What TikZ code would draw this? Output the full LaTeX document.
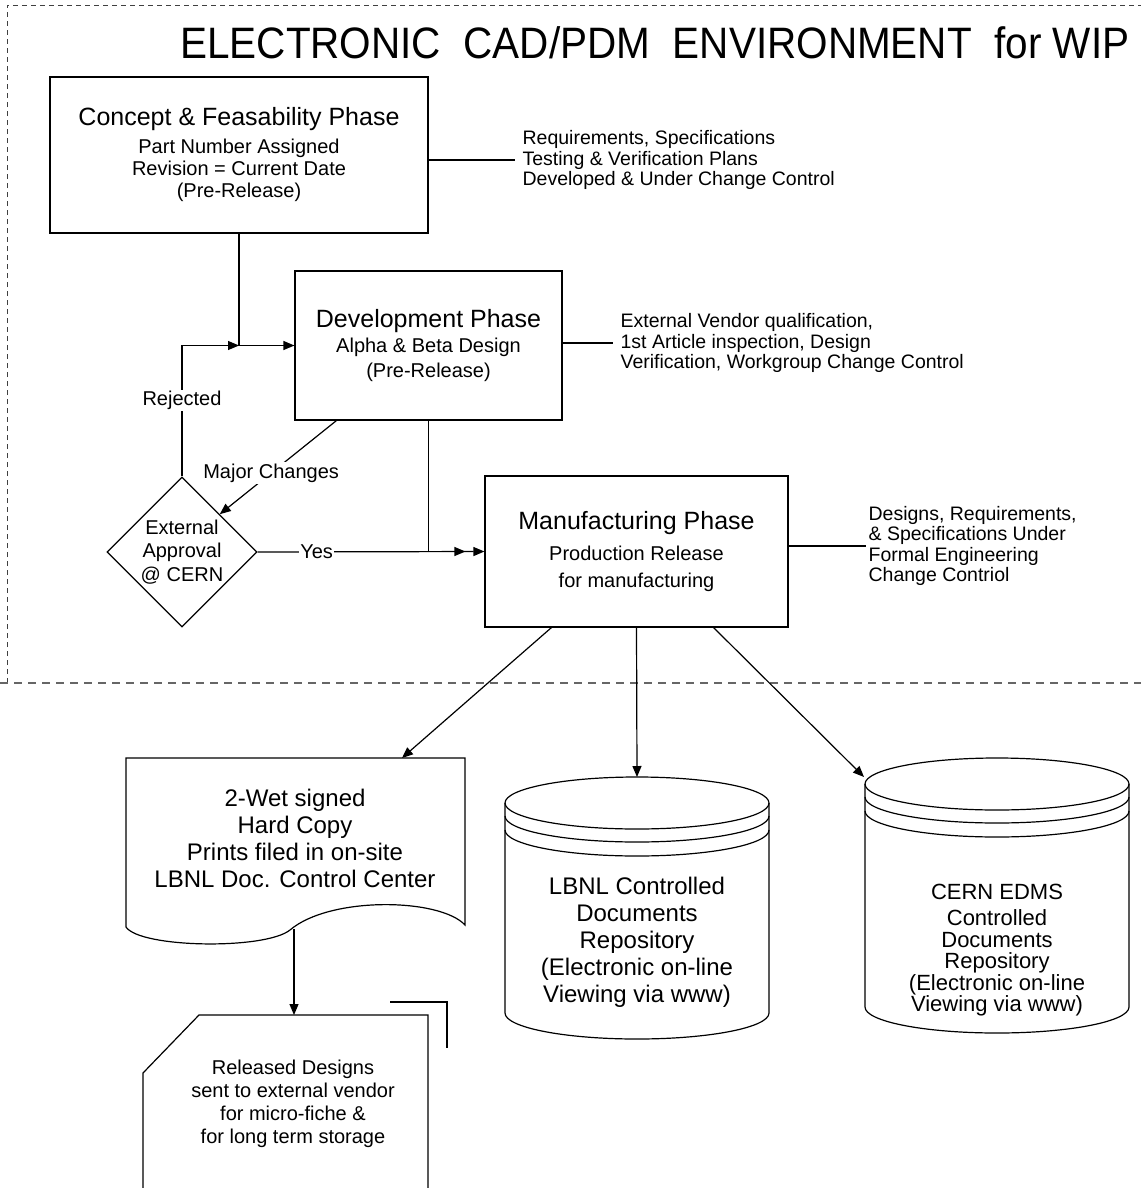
\documentclass[tikz,border=0pt]{standalone}
\usepackage{fontspec}
\setsansfont{Liberation Sans}
\newfontfamily\titlefont[FakeStretch=0.92]{Liberation Sans}
\usepackage{tikz}
\usetikzlibrary{arrows.meta,calc,shapes.geometric}

\begin{document}
\begin{tikzpicture}[
  x=1pt, y=-1pt,
  font=\sffamily,
  line width=1.2pt,
  phase/.style={draw, align=center, inner sep=0pt, font=\sffamily\fontsize{20}{22}\selectfont},
  decision/.style={draw, diamond, aspect=1, align=center, inner sep=0pt, minimum width=150pt, minimum height=150pt, font=\sffamily\fontsize{20}{23.5}\selectfont},
  note/.style={anchor=west, align=left, inner xsep=7pt, inner ysep=0pt, font=\sffamily\fontsize{19.5}{20.5}\selectfont},
  lbl/.style={fill=white, inner sep=1.5pt, font=\sffamily\fontsize{20}{22}\selectfont},
  store text/.style={align=center, inner sep=0pt},
  frame/.style={line width=0.9pt, dash pattern=on 5pt off 4pt, draw=black!75},
  arr/.style={-{Triangle[length=11pt,width=9pt]}, line width=1.2pt}
]
\path[use as bounding box, fill=white] (0,0) rectangle (1141,1188);

% ---------- WIP environment frame ----------
\draw[frame] (7,683) -- (7,5) -- (1141,5);
\draw[frame, dash pattern=on 8pt off 6pt, draw=black!60, line width=1.3pt] (0,683) -- (1141,683);
\node[font=\titlefont\fontsize{44}{48}\selectfont, anchor=east, inner sep=0pt] (title) at (1130,43) {ELECTRONIC\ \ CAD/PDM\ \ ENVIRONMENT\ \ for WIP};

% ---------- phases ----------
\node[phase, minimum width=378pt, minimum height=156pt] (concept) at (239,155) {{\fontsize{25}{28}\selectfont Concept \& Feasability Phase}\\[6pt] Part Number Assigned\\ Revision = Current Date\\ (Pre-Release)};
\node[phase, minimum width=267pt, minimum height=149pt, font=\sffamily\fontsize{20}{25}\selectfont] (devel) at (428.5,345.5) {{\fontsize{25}{28}\selectfont Development Phase}\\ Alpha \& Beta Design\\ (Pre-Release)};
\node[phase, minimum width=303pt, minimum height=151pt, font=\sffamily\fontsize{20}{27}\selectfont] (manuf) at (636.5,551.5) {{\fontsize{25}{28}\selectfont Manufacturing Phase}\\[4pt] Production Release\\ for manufacturing};
\node[decision] (approval) at (182,552) {External\\ Approval\\ @ CERN};

% ---------- side notes ----------
\node[note] (reqs) at (515,160) {Requirements, Specifications\\ Testing \& Verification Plans\\ Developed \& Under Change Control};
\node[note] (vendor) at (613,343) {External Vendor qualification,\\ 1st Article inspection, Design\\ Verification, Workgroup Change Control};
\node[note, inner xsep=2pt] (formal) at (866,546) {Designs, Requirements,\\ \& Specifications Under\\ Formal Engineering\\ Change Contriol};
\draw (concept.east |- reqs.west) -- (reqs.west);
\draw (devel.east |- vendor.west) -- (vendor.west);
\draw (manuf.east |- formal.west) -- (formal.west);

% ---------- flow between phases ----------
\draw[arr] (concept.south) |- (devel.west);
\draw[arr] (approval.north) |- (concept.south |- devel.west) node[lbl, pos=0.29] {Rejected};
\draw[arr] ($(devel.south west)+(42,0)$) -- (approval.north east) node[lbl, pos=0.56] {Major Changes};
\draw[arr] (approval.east) -- (manuf.west) node[lbl, pos=0.26] {Yes};
\draw[arr] (devel.south) |- ($(manuf.west)+(-19,0)$);

% ---------- hard copy (document shape) ----------
\draw (126,927) -- (126,758) -- (465,758) -- (465,925) .. controls (440,898) and (330,896) .. (290,930) .. controls (265,950) and (140,948) .. (126,927) -- cycle;
\node[store text, font=\sffamily\fontsize{24}{27}\selectfont] (hardcopy) at (295,838) {2-Wet signed\\ Hard Copy\\ Prints filed in on-site\\ LBNL Doc. Control Center};
\coordinate (hardcopy top) at (402,758);
\coordinate (hardcopy out) at (294,929);

% ---------- micro-fiche card ----------
\draw (143,1188) -- (143,1073) -- (199,1015) -- (428,1015) -- (428,1188);
\draw (390,1002) -- (447,1002) -- (447,1048);
\node[store text, font=\sffamily\fontsize{20}{23}\selectfont] (archive) at (293,1104) {Released Designs\\ sent to external vendor\\ for micro-fiche \&\\ for long term storage};
\coordinate (archive top) at (294,1015);

% ---------- repositories ----------
\foreach \cx/\top/\bot in {637/777/1039, 997/758/1033} {
  \draw (\cx-132,\top+26) -- (\cx-132,\bot-26) arc[start angle=180, end angle=360, x radius=132pt, y radius=26pt] -- (\cx+132,\top+26);
  \draw (\cx,\top+26) ellipse [x radius=132pt, y radius=26pt];
  \draw (\cx-132,\top+39) arc[start angle=180, end angle=360, x radius=132pt, y radius=26pt];
  \draw (\cx-132,\top+53) arc[start angle=180, end angle=360, x radius=132pt, y radius=26pt];
}
\node[store text, font=\sffamily\fontsize{24}{27}\selectfont] (lbnl) at (637,942) {LBNL Controlled\\ Documents\\ Repository\\ (Electronic on-line\\ Viewing via www)};
\node[store text, font=\sffamily\fontsize{22}{21.5}\selectfont] (cern) at (997,950) {CERN EDMS\\[5pt] Controlled\\ Documents\\ Repository\\ (Electronic on-line\\ Viewing via www)};
\coordinate (lbnl top) at (637,777);
\coordinate (cern top) at (864,777);

% ---------- release outputs ----------
\draw[arr] ($(manuf.south west)+(67,0)$) -- (hardcopy top);
\draw[arr] (manuf.south) -- (lbnl top);
\draw[arr] ($(manuf.south east)+(-75,0)$) -- (cern top);
\draw[arr] (hardcopy out) -- (archive top);
\end{tikzpicture}
\end{document}
